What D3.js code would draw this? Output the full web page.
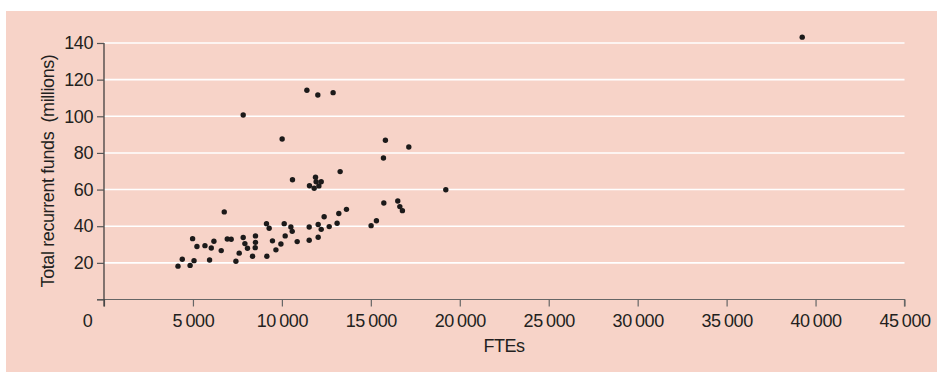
<!DOCTYPE html>
<html>
<head>
<meta charset="utf-8">
<script src="https://cdn.jsdelivr.net/npm/d3@7"></script>
<style>
  body { margin: 0; background: #fff; }
  text { font-family: "Liberation Sans", Arial, sans-serif; fill: #231f20; }
</style>
</head>
<body>
<div id="chart"></div>
<script>
// FTEs vs total recurrent funds (millions)
const ftes = [4160, 4400, 4840, 5060, 4980, 5225, 5675, 5935, 6030, 6180,
  6590, 6760, 6930, 7150, 7415, 7600, 7825, 7825, 7920, 8065,
  8350, 8500, 8515, 8515, 9135, 9285, 9155, 9470, 9665, 9945,
  10015, 10130, 10185, 10505, 10580, 10595, 10860, 11405, 11550, 11535,
  11535, 11815, 11890, 11925, 12080, 12210, 12020, 12040, 12040, 12210,
  12375, 12660, 12880, 13105, 13200, 13275, 13630, 15015, 15315, 15710,
  15730, 15820, 17135, 16515, 16630, 16775, 19215, 39250];
const funds = [18.2, 22.0, 18.6, 21.2, 33.2, 28.9, 29.4, 21.6, 28.1, 31.8,
  26.7, 47.8, 33.0, 32.9, 20.9, 25.3, 100.7, 33.8, 30.5, 28.0,
  23.6, 28.3, 31.2, 34.7, 41.4, 38.9, 23.6, 32.0, 27.1, 30.3,
  87.6, 41.4, 34.7, 39.6, 37.2, 65.4, 31.6, 114.2, 62.1, 39.6,
  32.3, 60.7, 66.7, 64.3, 62.0, 64.3, 111.6, 40.9, 34.0, 38.3,
  45.2, 39.8, 112.9, 41.6, 46.9, 69.8, 49.2, 40.3, 43.0, 77.2,
  52.7, 86.9, 83.2, 53.8, 50.7, 48.5, 59.9, 143.2];
const xTicks = [0, 5000, 10000, 15000, 20000, 25000, 30000, 35000, 40000, 45000];
const yTicks = [0, 20, 40, 60, 80, 100, 120, 140];

const W = 937, H = 372;
const svg = d3.select('#chart').append('svg')
  .attr('width', W).attr('height', H);

svg.append('rect')
  .attr('x', 6).attr('y', 11)
  .attr('width', W - 6).attr('height', H - 11)
  .attr('fill', '#f7d3c8');

const x = d3.scaleLinear().domain([0, 45000]).range([104, 904.5]);
const y = d3.scaleLinear().domain([0, 140]).range([299.5, 43]);

// white gridlines
svg.append('g')
  .selectAll('line')
  .data(yTicks.filter(d => d > 0))
  .enter().append('line')
  .attr('x1', x(0)).attr('x2', x(45000))
  .attr('y1', d => y(d)).attr('y2', d => y(d))
  .attr('stroke', '#fff')
  .attr('stroke-width', 1.6);

const fmt = d => d === 0 ? '0' : d3.format(',')(d).replace(',', '\u2009');

const xAxis = svg.append('g')
  .attr('transform', 'translate(0,' + y(0) + ')')
  .call(d3.axisBottom(x).tickValues(xTicks).tickSize(7).tickPadding(8).tickFormat(fmt));
xAxis.select('.domain').attr('stroke', '#666').attr('stroke-width', 1.2)
  .attr('d', 'M97,0H' + x(45000) + 'V7');
xAxis.selectAll('.tick line').attr('stroke', '#666').attr('stroke-width', 1.2);
xAxis.selectAll('.tick text')
  .attr('font-size', 18).attr('letter-spacing', '-0.4px')
  .attr('font-family', '"Liberation Sans", Arial, sans-serif')
  .attr('fill', '#231f20')
  .attr('dx', d => d === 0 ? -17 : 0);

const yAxis = svg.append('g')
  .attr('transform', 'translate(' + x(0) + ',0)')
  .call(d3.axisLeft(y).tickValues(yTicks).tickSize(7).tickPadding(4)
    .tickFormat(d => d === 0 ? '' : d));
yAxis.select('.domain').attr('stroke', '#333').attr('stroke-width', 1.2)
  .attr('d', 'M0,' + y(140) + 'V' + (y(0) + 7));
yAxis.selectAll('.tick line').attr('stroke', '#555').attr('stroke-width', 1.2);
yAxis.selectAll('.tick text')
  .attr('font-size', 18).attr('letter-spacing', '-0.4px')
  .attr('font-family', '"Liberation Sans", Arial, sans-serif')
  .attr('fill', '#231f20');

svg.append('text')
  .attr('x', 504).attr('y', 352)
  .attr('text-anchor', 'middle')
  .attr('font-size', 18).attr('letter-spacing', '-0.5px')
  .text('FTEs');

svg.append('text')
  .attr('transform', 'translate(53.5,171) rotate(-90)')
  .attr('text-anchor', 'middle')
  .attr('font-size', 18).attr('letter-spacing', '-0.4px')
  .style('white-space', 'pre')
  .text('Total recurrent funds  (millions)');

svg.append('g')
  .selectAll('circle')
  .data(d3.range(ftes.length))
  .enter().append('circle')
  .attr('cx', i => x(ftes[i]))
  .attr('cy', i => y(funds[i]))
  .attr('r', 2.7)
  .attr('fill', '#1c1a1a');
</script>
</body>
</html>
